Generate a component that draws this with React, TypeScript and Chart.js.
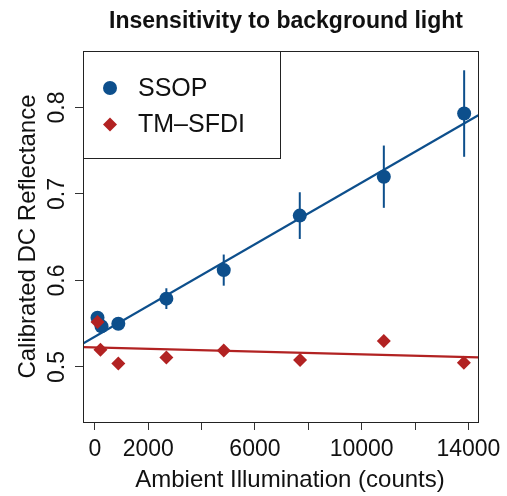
import React, { useEffect, useRef } from 'react';
import { Chart, registerables } from 'chart.js';

Chart.register(...registerables);

// ---- data ----
const ssopX = [100, 250, 880, 2680, 4830, 7680, 10830, 13840];
const ssopY = [0.557, 0.547, 0.550, 0.579, 0.612, 0.675, 0.720, 0.793];
const ssopErr = [0.006, 0.004, 0.005, 0.012, 0.018, 0.027, 0.036, 0.050];

const tmX = [100, 210, 880, 2680, 4830, 7690, 10830, 13830];
const tmY = [0.552, 0.520, 0.504, 0.511, 0.519, 0.508, 0.530, 0.505];
const tmErr = [0.006, 0.003, 0.003, 0.003, 0.003, 0.003, 0.003, 0.003];

const fitX = [-444, 14370];
const ssopFitY = [0.527, 0.791];
const tmFitY = [0.523, 0.511];

const xTickValues = [0, 2000, 4000, 6000, 8000, 10000, 12000, 14000];
const xTickLabels = ['0', '2000', '', '6000', '', '10000', '', '14000'];
const yTickValues = [0.5, 0.6, 0.7, 0.8];
const yTickLabels = ['0.5', '0.6', '0.7', '0.8'];

const xRange = [-444, 14370];
const yRange = [0.4364, 0.8653];

const titleText = 'Insensitivity to background light';
const xTitle = 'Ambient Illumination (counts)';
const yTitle = 'Calibrated DC Reflectance';
const seriesNames = ['SSOP', 'TM\u2013SFDI'];

const BLUE = '#0d4f8c';
const RED = '#b22222';
const INK = '#111111';
const FONT = '"Liberation Sans", Arial, Helvetica, sans-serif';

const CIRCLE_R = 7;
const DIAMOND_R = 7;

const toPts = (xs: number[], ys: number[]) => xs.map((x, i) => ({ x, y: ys[i] }));

const decorPlugin = {
  id: 'decor',
  beforeDatasetsDraw(chart: any) {
    const { ctx, scales } = chart;
    const xs = scales.x;
    const ys = scales.y;
    ctx.save();
    ctx.lineWidth = 2;
    const bars = [
      { xv: ssopX, yv: ssopY, ev: ssopErr, c: BLUE },
      { xv: tmX, yv: tmY, ev: tmErr, c: RED },
    ];
    bars.forEach((b) => {
      ctx.strokeStyle = b.c;
      b.xv.forEach((xv, i) => {
        const px = xs.getPixelForValue(xv);
        ctx.beginPath();
        ctx.moveTo(px, ys.getPixelForValue(b.yv[i] - b.ev[i]));
        ctx.lineTo(px, ys.getPixelForValue(b.yv[i] + b.ev[i]));
        ctx.stroke();
      });
    });
    ctx.restore();
  },
  afterDraw(chart: any) {
    const { ctx, chartArea, scales } = chart;
    const ys = scales.y;
    const l = Math.round(chartArea.left) + 0.5;
    const t = Math.round(chartArea.top) + 0.5;
    const r = Math.round(chartArea.right) + 0.5;
    const b = Math.round(chartArea.bottom) + 0.5;
    ctx.save();
    // plot box
    ctx.strokeStyle = '#222';
    ctx.lineWidth = 1;
    ctx.strokeRect(l, t, r - l, b - t);

    // title
    ctx.fillStyle = INK;
    ctx.font = `bold 23px ${FONT}`;
    ctx.textAlign = 'center';
    ctx.textBaseline = 'middle';
    ctx.fillText(titleText, 286, 22);

    // y tick labels (rotated)
    ctx.font = `23px ${FONT}`;
    yTickValues.forEach((v, i) => {
      const py = ys.getPixelForValue(v);
      ctx.save();
      ctx.translate(57.5, py);
      ctx.rotate(-Math.PI / 2);
      ctx.fillText(yTickLabels[i], 0, 0);
      ctx.restore();
    });

    // axis titles
    ctx.font = `24px ${FONT}`;
    ctx.fillText(xTitle, 290, 480);
    ctx.save();
    ctx.translate(28, (chartArea.top + chartArea.bottom) / 2);
    ctx.rotate(-Math.PI / 2);
    ctx.fillText(yTitle, 0, 0);
    ctx.restore();

    // legend
    ctx.strokeStyle = '#222';
    ctx.strokeRect(l, t, 280.5 - l, 158.5 - t);
    ctx.fillStyle = BLUE;
    ctx.beginPath();
    ctx.arc(110, 88, CIRCLE_R, 0, Math.PI * 2);
    ctx.fill();
    ctx.fillStyle = RED;
    const dy = 124.5;
    ctx.beginPath();
    ctx.moveTo(110, dy - DIAMOND_R);
    ctx.lineTo(110 + DIAMOND_R, dy);
    ctx.lineTo(110, dy + DIAMOND_R);
    ctx.lineTo(110 - DIAMOND_R, dy);
    ctx.closePath();
    ctx.fill();
    ctx.fillStyle = INK;
    ctx.font = `25px ${FONT}`;
    ctx.textAlign = 'left';
    ctx.fillText(seriesNames[0], 138, 89);
    ctx.fillText(seriesNames[1], 138, 125);
    ctx.restore();
  },
};

export default function App() {
  const ref = useRef<HTMLCanvasElement | null>(null);
  useEffect(() => {
    document.body.style.margin = '0';
    const canvas = ref.current;
    if (!canvas) return;
    const chart = new Chart(canvas, {
      type: 'scatter',
      data: {
        datasets: [
          {
            type: 'line',
            label: 'SSOP fit',
            data: toPts(fitX, ssopFitY),
            borderColor: BLUE,
            borderWidth: 2.2,
            pointRadius: 0,
            showLine: true,
            fill: false,
          } as any,
          {
            type: 'line',
            label: 'TM-SFDI fit',
            data: toPts(fitX, tmFitY),
            borderColor: RED,
            borderWidth: 2.2,
            pointRadius: 0,
            showLine: true,
            fill: false,
          } as any,
          {
            label: seriesNames[1],
            data: toPts(tmX, tmY),
            backgroundColor: RED,
            borderColor: RED,
            borderWidth: 0,
            pointRadius: DIAMOND_R,
            pointStyle: 'rectRot',
          },
          {
            label: seriesNames[0],
            data: toPts(ssopX, ssopY),
            backgroundColor: BLUE,
            borderColor: BLUE,
            borderWidth: 0,
            pointRadius: CIRCLE_R,
            pointStyle: 'circle',
          },
        ],
      },
      options: {
        animation: false,
        responsive: false,
        devicePixelRatio: 1,
        layout: { padding: { top: 51, right: 24, left: 0, bottom: 0 } },
        plugins: {
          legend: { display: false },
          title: { display: false },
          tooltip: { enabled: false },
        },
        scales: {
          x: {
            type: 'linear',
            min: xRange[0],
            max: xRange[1],
            afterBuildTicks: (s: any) => {
              s.ticks = xTickValues.map((v) => ({ value: v }));
            },
            afterFit: (s: any) => {
              s.height = 74;
            },
            ticks: {
              autoSkip: false,
              maxRotation: 0,
              minRotation: 0,
              padding: 6,
              color: INK,
              font: { family: FONT, size: 23 },
              callback: (v: any) => {
                const i = xTickValues.indexOf(Number(v));
                return i >= 0 ? xTickLabels[i] : '';
              },
            },
            grid: {
              display: true,
              drawOnChartArea: false,
              drawTicks: true,
              tickLength: 8,
              color: '#333',
              lineWidth: 1,
            },
            border: { display: false },
          },
          y: {
            type: 'linear',
            min: yRange[0],
            max: yRange[1],
            afterBuildTicks: (s: any) => {
              s.ticks = yTickValues.map((v) => ({ value: v }));
            },
            afterFit: (s: any) => {
              s.width = 83;
            },
            ticks: { display: false },
            grid: {
              display: true,
              drawOnChartArea: false,
              drawTicks: true,
              tickLength: 8,
              color: '#333',
              lineWidth: 1,
            },
            border: { display: false },
          },
        },
      },
      plugins: [decorPlugin],
    });
    return () => chart.destroy();
  }, []);
  return <canvas ref={ref} width={507} height={496} style={{ display: 'block' }} />;
}
